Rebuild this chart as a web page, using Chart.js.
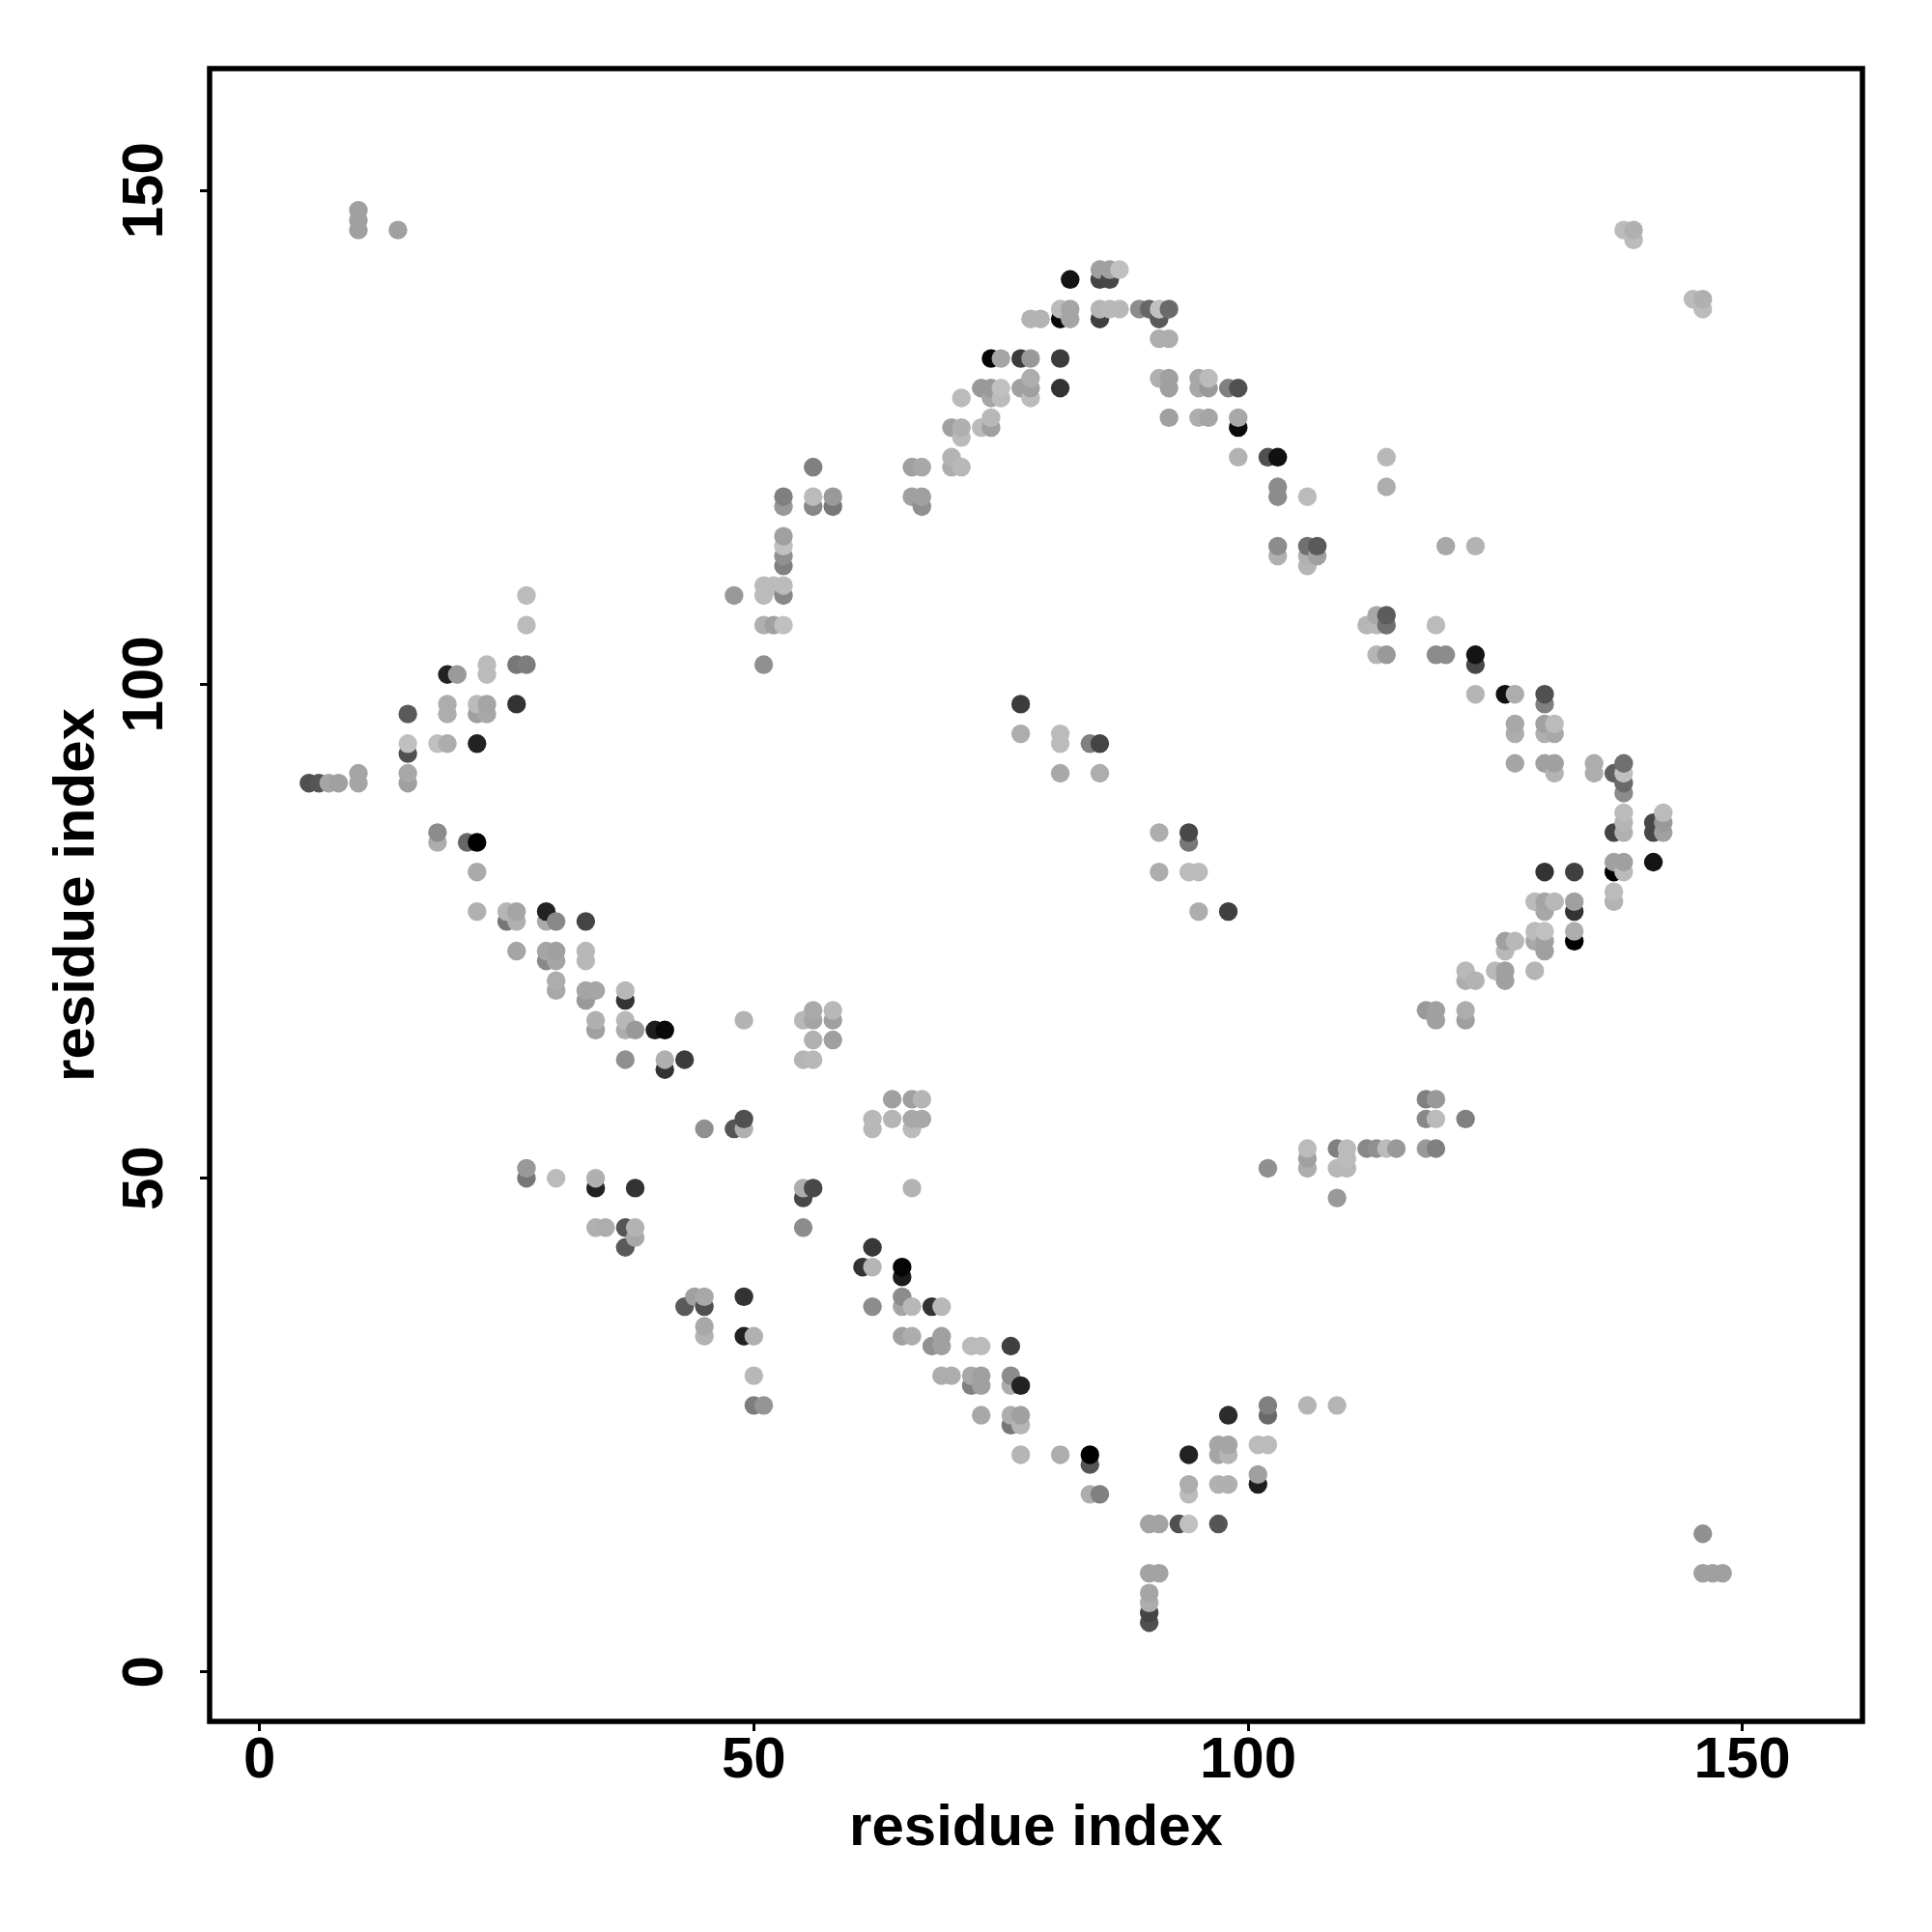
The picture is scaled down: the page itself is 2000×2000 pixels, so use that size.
<!DOCTYPE html>
<html>
<head>
<meta charset="utf-8">
<style>html,body{margin:0;padding:0;background:#fff}canvas{display:block}</style>
<script src="https://cdn.jsdelivr.net/npm/chart.js@4/dist/chart.umd.min.js"></script>
</head>
<body>
<div style="width:2000px;height:2000px"><canvas id="c" width="2000" height="2000"></canvas></div>
<script>
const residueX = [
5,6,7,8,
10,10,10,10,10,
14,
15,15,15,15,15,
18,18,18,
19,19,19,19,
20,21,
22,22,22,22,22,22,
23,23,23,23,
25,25,
26,26,26,26,26,
27,27,27,27,27,
29,29,29,29,
30,30,30,30,30,30,
33,33,33,33,33,
34,34,34,34,34,34,
35,
37,37,37,37,37,37,37,
38,38,38,38,
40,
41,41,41,
43,43,
44,
45,45,45,45,45,
48,48,
49,49,49,49,49,
50,50,50,
51,51,51,51,51,
52,52,
53,53,53,53,53,53,53,53,53,
55,55,55,55,55,
56,56,56,56,56,56,56,56,
58,58,58,58,58,
61,
62,62,62,62,62,
64,64,
65,65,65,65,65,
66,66,66,66,66,66,66,66,
67,67,67,67,67,
68,68,
69,69,69,69,
70,70,70,70,
71,71,71,71,
72,72,72,
73,73,73,73,73,73,
74,74,74,74,74,
75,75,75,
76,76,76,76,76,
77,77,77,77,77,77,77,77,
78,78,78,78,78,
79,
81,81,81,81,81,81,81,81,
82,82,82,
84,84,84,84,
85,85,85,85,85,85,85,
86,86,86,
87,87,
89,
90,90,90,90,90,90,90,
91,91,91,91,91,91,91,91,
92,92,92,92,92,
93,
94,94,94,94,94,94,94,
95,95,95,95,95,
96,96,96,
97,97,97,97,
98,98,98,98,98,98,
99,99,99,99,
101,101,101,
102,102,102,102,102,
103,103,103,103,103,
106,106,106,106,106,106,106,106,
107,107,
109,109,109,109,
110,110,110,
112,112,
113,113,113,113,
114,114,114,114,114,114,
115,
118,118,118,118,
119,119,119,119,119,119,119,
120,120,
122,122,122,122,122,
123,123,123,123,123,
125,
126,126,126,126,126,
127,127,127,127,127,
129,129,129,129,
130,130,130,130,130,130,130,130,130,130,130,
131,131,131,131,131,
133,133,133,133,133,
135,135,
137,137,137,137,137,137,
138,138,138,138,138,138,138,138,138,138,
139,139,
141,141,141,
142,142,142,
145,
146,146,146,146,
147,148
];
const residueY = [
90,90,90,90,
90,91,146,147,148,
146,
90,91,93,94,97,
84,85,94,
94,97,98,101,
101,84,
77,81,84,94,97,98,
97,98,101,102,
76,77,
73,76,77,98,102,
50,51,102,106,109,
72,73,76,77,
50,69,70,72,73,76,
68,69,72,73,76,
45,49,50,65,66,69,
45,
43,45,62,65,66,68,69,
44,45,49,65,
65,
61,62,65,
37,62,
38,
34,35,37,38,55,
55,109,
34,38,55,56,66,
27,30,34,
27,102,106,109,110,
106,110,
106,109,110,112,113,114,115,118,119,
45,48,49,62,66,
49,62,64,66,67,118,119,122,
64,66,67,118,119,
41,
37,41,43,55,56,
56,58,
34,37,38,40,41,
34,37,49,55,56,58,119,122,
56,58,118,119,122,
33,37,
30,33,34,37,
30,122,123,126,
122,125,126,129,
29,30,33,
26,29,30,33,126,130,
126,127,129,130,133,
129,130,133,
25,26,29,30,33,
22,25,26,29,95,98,130,133,
129,130,131,133,137,
137,
22,91,94,95,130,133,137,138,
137,138,141,
18,21,22,94,
18,91,94,137,138,141,142,
138,141,142,
138,142,
138,
5,6,7,8,10,15,138,
10,15,81,85,131,135,137,138,
127,130,131,135,138,
15,
15,18,19,22,81,84,85,
77,81,127,130,131,
127,130,131,
15,19,22,23,
19,22,23,26,77,130,
123,126,127,130,
19,20,23,
23,26,27,51,123,
113,114,119,120,123,
27,51,52,53,112,113,114,119,
113,114,
27,48,51,53,
51,52,53,
53,106,
53,103,106,107,
53,103,106,107,120,123,
53,
53,56,58,67,
53,56,58,66,67,103,106,
103,114,
56,66,67,70,71,
70,99,102,103,114,
71,
70,71,73,74,99,
74,92,95,96,99,
71,74,75,78,
73,74,75,77,78,81,92,95,96,98,99,
78,91,92,95,96,
74,75,77,78,81,
91,92,
78,79,81,82,85,91,
81,82,85,86,87,89,90,91,92,146,
145,146,
82,85,86,
85,86,87,
139,
10,14,138,139,
10,10
];
const contactGrey = [
80,85,165,160,
165,165,160,160,160,
160,
160,168,80,192,90,
173,140,192,
173,173,173,34,
154,102,
176,170,0,34,160,187,
168,165,187,187,
119,181,
165,176,165,51,119,
119,153,125,187,187,
136,165,170,34,
187,168,173,165,160,136,
153,165,184,184,68,
176,34,176,160,176,165,
173,
90,85,144,173,184,51,184,
168,179,51,153,
30,
51,176,8,
90,60,
160,
179,168,80,168,144,
85,153,
34,51,176,80,179,
125,184,176,
149,144,176,187,187,
160,187,
192,136,187,128,144,192,160,153,128,
140,72,173,181,184,
72,184,176,165,170,136,187,128,
160,160,184,119,153,
51,
140,181,56,184,184,
181,160,
160,165,140,28,5,
173,184,179,187,168,160,160,160,
168,181,144,160,168,
145,51,
173,160,160,184,
173,173,179,160,
184,187,176,187,
128,168,187,
168,160,160,187,187,153,
160,184,165,153,5,
187,192,165,
119,173,173,140,64,
181,181,160,34,173,60,160,60,
187,160,173,153,179,
179,
173,168,187,187,51,60,10,187,
165,165,20,
173,85,0,128,
128,173,68,64,181,68,160,
184,72,160,
184,192,
140,
80,68,173,165,163,163,102,
163,163,173,173,176,173,90,192,
160,160,160,173,106,
80,
192,187,173,34,187,119,72,
173,187,173,168,168,
165,153,187,
85,176,165,165,
176,181,165,44,64,128,
179,10,168,80,
30,160,187,
187,106,128,144,80,
176,140,140,140,17,
181,173,160,187,181,176,112,187,
160,90,
181,153,184,128,
184,187,187,
136,181,
144,181,184,168,
187,153,112,92,173,184,
153,
153,136,128,153,
128,187,153,160,160,140,187,
140,168,
128,160,173,173,184,
179,181,72,20,179,
184,
160,160,184,160,17,
184,165,173,168,173,
181,168,187,187,
160,160,192,168,165,51,160,176,160,128,80,
184,179,160,168,187,
0,173,51,160,64,
173,173,
179,187,0,160,68,96,
187,160,176,181,187,140,106,192,112,187,
187,176,
20,72,72,
160,153,187,
187,
160,144,187,176,
160,160
];
const axisTicks = [0, 50, 100, 150];
const axisLabel = "residue index";

const points = residueX
  .map((x, i) => ({x, y: residueY[i], grey: contactGrey[i]}))
  .sort((a, b) => a.x - b.x || a.y - b.y);

const font = {family: '"Liberation Sans", Arial, sans-serif', weight: 'bold', size: 60};

const framePlugin = {
  id: 'frame',
  afterDraw(chart) {
    const {ctx, chartArea: a} = chart;
    ctx.save();
    ctx.strokeStyle = '#000';
    ctx.lineWidth = 5.5;
    ctx.strokeRect(a.left, a.top, a.right - a.left, a.bottom - a.top);
    ctx.restore();
  }
};

function fixedTicks(scale) {
  scale.ticks = axisTicks.map(value => ({value}));
}

new Chart(document.getElementById('c'), {
  type: 'scatter',
  data: {
    datasets: [{
      data: points,
      pointRadius: 9.7,
      pointHoverRadius: 9.7,
      pointBorderWidth: 0,
      pointBackgroundColor: points.map(p => `rgb(${p.grey},${p.grey},${p.grey})`)
    }]
  },
  options: {
    responsive: false,
    animation: false,
    events: [],
    layout: {padding: {top: 71, right: 72, left: 0, bottom: 0}},
    plugins: {legend: {display: false}, tooltip: {enabled: false}},
    scales: {
      x: {
        type: 'linear', min: -5.05, max: 162.15,
        afterBuildTicks: fixedTicks,
        afterFit(s) { s.height = 218; },
        grid: {display: true, drawOnChartArea: false, tickLength: 10, tickColor: '#000', tickWidth: 3},
        border: {display: false},
        ticks: {color: '#000', font, padding: -5, maxRotation: 0, autoSkip: false, callback: v => String(v)},
        title: {display: true, text: axisLabel, color: '#000', font, padding: {top: 0, bottom: 70.5}}
      },
      y: {
        type: 'linear', min: -5, max: 162.35,
        afterBuildTicks: fixedTicks,
        afterFit(s) { s.width = 217; },
        grid: {display: true, drawOnChartArea: false, tickLength: 10, tickColor: '#000', tickWidth: 3},
        border: {display: false},
        ticks: {color: '#000', font, padding: 5, minRotation: 90, maxRotation: 90, crossAlign: 'center', autoSkip: false, callback: v => String(v)},
        title: {display: true, text: axisLabel, color: '#000', font, padding: {top: 44, bottom: 0}}
      }
    }
  },
  plugins: [framePlugin]
});
</script>
</body>
</html>
